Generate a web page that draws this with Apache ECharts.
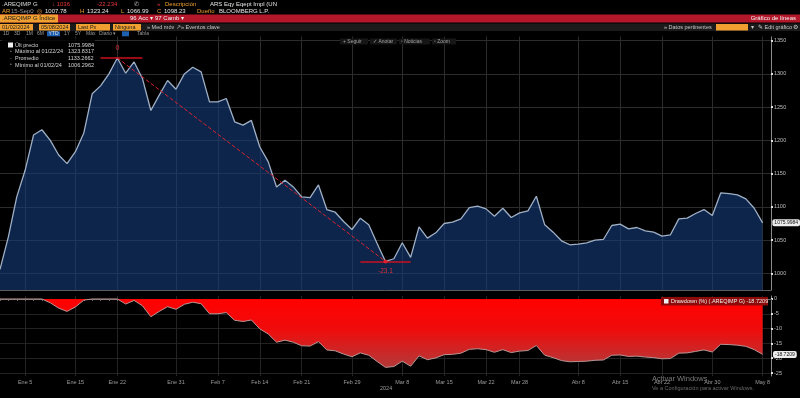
<!DOCTYPE html>
<html>
<head>
<meta charset="utf-8">
<script src="https://cdn.jsdelivr.net/npm/echarts@6/dist/echarts.min.js"></script>
<style>
  html, body { margin: 0; padding: 0; background: #000; }
  #chart { width: 800px; height: 398px; }
</style>
</head>
<body>
<div id="chart"></div>
<script>
// dias habiles 2 ene - 9 may 2024 (el ultimo queda vacio, margen a la derecha)
var fechas = [];
for (var d = new Date(Date.UTC(2024, 0, 2)); d <= new Date(Date.UTC(2024, 4, 9)); d.setUTCDate(d.getUTCDate() + 1)) {
  var wd = d.getUTCDay();
  if (wd === 0 || wd === 6) continue;
  fechas.push(d.toISOString().slice(0, 10));
}

// .AREQIMP G - ultimo precio
var precios = [
  1006, 1055, 1115, 1155, 1208, 1216, 1200, 1178, 1165, 1183,
  1211, 1270, 1282, 1300, 1324, 1301, 1318, 1293, 1245, 1268,
  1290, 1277, 1300, 1310, 1303, 1258, 1258, 1263, 1228, 1223,
  1230, 1190, 1168, 1130, 1140, 1130, 1115, 1114, 1133, 1096,
  1092, 1078, 1066, 1083, 1073, 1045, 1018, 1022, 1046, 1024,
  1070, 1053, 1061, 1075, 1077, 1082, 1099, 1101, 1097, 1086,
  1098, 1084, 1091, 1094, 1116, 1073, 1062, 1049, 1043, 1044,
  1046, 1050, 1051, 1072, 1074, 1067, 1069, 1064, 1062, 1056,
  1058, 1082, 1083, 1090, 1096, 1087, 1121, 1120, 1118, 1112,
  1098, 1076
];

// Drawdown (%)
var drawdown = [
  0, 0, 0, 0, 0, 0, -1.3, -3.1, -4.2, -2.7,
  -0.4, 0, 0, 0, 0, -1.7, -0.5, -2.3, -6.0, -4.2,
  -2.6, -3.5, -1.8, -1.1, -1.6, -5.0, -5.0, -4.6, -7.2, -7.6,
  -7.1, -10.1, -11.8, -14.6, -13.9, -14.6, -15.8, -15.9, -14.4, -17.2,
  -17.5, -18.6, -19.5, -18.2, -19.0, -21.1, -23.1, -22.8, -21.0, -22.7,
  -19.2, -20.5, -19.9, -18.8, -18.7, -18.3, -17.0, -16.8, -17.1, -18.0,
  -17.1, -18.1, -17.6, -17.4, -15.7, -19.0, -19.8, -20.8, -21.2, -21.1,
  -21.0, -20.7, -20.6, -19.0, -18.9, -19.4, -19.3, -19.6, -19.8, -20.2,
  -20.1, -18.3, -18.2, -17.7, -17.2, -17.9, -15.3, -15.4, -15.6, -16.0,
  -17.1, -18.7
];

var tickFechas = ['2024-01-05', '2024-01-15', '2024-01-22', '2024-01-31', '2024-02-07', '2024-02-14',
  '2024-02-21', '2024-02-29', '2024-03-08', '2024-03-15', '2024-03-22', '2024-03-28',
  '2024-04-08', '2024-04-15', '2024-04-22', '2024-04-30', '2024-05-08'];
var tickEtiquetas = ['Ene 5', 'Ene 15', 'Ene 22', 'Ene 31', 'Feb 7', 'Feb 14', 'Feb 21', 'Feb 29',
  'Mar 8', 'Mar 15', 'Mar 22', 'Mar 28', 'Abr 8', 'Abr 15', 'Abr 22', 'Abr 30', 'May 8'];
var nivelesPrecio = [1000, 1050, 1100, 1150, 1200, 1250, 1300, 1350];
var nivelesDD = [0, -5, -10, -15, -20, -25];

var ultimoPrecio = 1075.9984;
var ultimoDD = -18.7209;
var picoIdx = 14, valleIdx = 46;

var FONT = "'Liberation Sans Narrow', 'Liberation Sans', Arial, sans-serif";

function esTick(i, v) { return tickFechas.indexOf(v) >= 0; }
function etiqueta(v) { var k = tickFechas.indexOf(v); return k >= 0 ? tickEtiquetas[k] : ''; }
function sinComa(v) { return String(v); }

function txt(x, y, s, color, size, extra) {
  var st = { text: s, fill: color, font: (size || 6) + 'px ' + FONT, verticalAlign: 'middle' };
  if (extra) for (var k in extra) st[k] = extra[k];
  return { type: 'text', x: x, y: y, z: 100, silent: true, style: st };
}
function caja(x, y, w, h, color, r) {
  return { type: 'rect', z: 99, silent: true, shape: { x: x, y: y, width: w, height: h, r: r || 0 }, style: { fill: color } };
}

var ORANGE = '#f0a030';
var graficos = [
  // fila 1
  txt(2, 4, '.AREQIMP G', '#dcdcdc'),
  txt(52, 4, '\u2193 1036', '#e8383a'),
  txt(97, 4, '-22.234', '#e8383a'),
  txt(134, 4, '\u2706', '#bbb'),
  txt(157, 4, '\u00bb', '#e8383a'),
  txt(165, 4, 'Descripción', ORANGE),
  txt(210, 4, 'ARS Eqy Eqept Impl (UN', '#e6e6e6'),
  // fila 2
  txt(2, 11, 'AR', ORANGE),
  txt(11, 11, '15-Sep0', '#9a9a9a'),
  txt(37, 11, '\u25ce', ORANGE),
  txt(45, 11, '1007.78', '#e6e6e6'),
  txt(80, 11, 'H', ORANGE),
  txt(87, 11, '1323.24', '#e6e6e6'),
  txt(121, 11, 'L', ORANGE),
  txt(127, 11, '1066.99', '#e6e6e6'),
  txt(157, 11, 'C', ORANGE),
  txt(164, 11, '1098.23', '#e6e6e6'),
  txt(197, 11, 'Dueño', ORANGE),
  txt(219, 11, 'BLOOMBERG L.P.', '#e6e6e6'),
  // fila 3 - barra roja
  caja(0, 14.5, 800, 8, '#b3172a'),
  caja(0, 14.5, 58, 8, ORANGE),
  txt(2, 18.5, '.AREQIMP G Índice', '#1a1a1a'),
  txt(130, 18.5, '96 Acc \u25be', '#f0f0f0'),
  txt(155, 18.5, '97 Camb \u25be', '#f0f0f0'),
  txt(796, 18.5, 'Gráfico de líneas', '#f4f4f4', 6, { align: 'right' }),
  // fila 4
  caja(0, 23.5, 800, 7.5, '#1b1b1b'),
  caja(0, 24, 33, 6.5, ORANGE), txt(2, 27.3, '01/02/2024', '#1a1a1a', 5.5),
  caja(39, 24, 31, 6.5, ORANGE), txt(41, 27.3, '05/08/2024', '#1a1a1a', 5.5),
  caja(76, 24, 34, 6.5, ORANGE), txt(78, 27.3, 'Last Px', '#1a1a1a', 5.5),
  caja(113, 24, 28, 6.5, ORANGE), txt(115, 27.3, 'Ninguna', '#1a1a1a', 5.5),
  txt(147, 27.3, '\u00bb Med móv \u2197', '#c8c8c8', 5.5),
  txt(181, 27.3, '\u00bb Eventos clave', '#c8c8c8', 5.5),
  txt(664, 27.3, '\u00bb Datos pertinentes', '#c8c8c8', 5.5),
  caja(716, 24, 32, 6.5, ORANGE),
  txt(751, 27.3, '\u25be', '#c8c8c8', 5.5),
  txt(758, 27.3, '\u270e Edit gráfico', '#c8c8c8', 5.5),
  txt(793, 27.3, '\u2699', '#c8c8c8', 6),
  // fila 5
  caja(0, 31, 800, 5.5, '#000'),
  txt(3, 33.8, '1D', '#9a9a9a', 5),
  txt(14, 33.8, '3D', '#9a9a9a', 5),
  txt(26, 33.8, '1M', '#9a9a9a', 5),
  txt(37, 33.8, '6M', '#9a9a9a', 5),
  caja(47, 31.3, 13, 5, '#1f5fb0'), txt(48.5, 33.8, 'YTD', '#e8e8e8', 5),
  txt(64, 33.8, '1Y', '#9a9a9a', 5),
  txt(75, 33.8, '5Y', '#9a9a9a', 5),
  txt(86, 33.8, 'Máx', '#9a9a9a', 5),
  txt(99, 33.8, 'Diario \u25be', '#9a9a9a', 5),
  caja(122, 31.3, 7, 5, '#1f5fb0'),
  txt(137, 33.8, 'Tabla', '#9a9a9a', 5),
  // barra de herramientas del grafico
  caja(340, 38.5, 28, 6, '#161616', 1), txt(343, 41.5, '+ Seguir', '#a0a0a0', 5),
  caja(370, 38.5, 27, 6, '#161616', 1), txt(373, 41.5, '\u2713 Anotar', '#a0a0a0', 5),
  caja(399, 38.5, 31, 6, '#161616', 1), txt(401, 41.5, '\u25ab Noticias', '#a0a0a0', 5),
  caja(432, 38.5, 24, 6, '#161616', 1), txt(434, 41.5, '\u25ab Zoom', '#a0a0a0', 5),
  // leyenda principal
  caja(2, 38.5, 93, 29, 'rgba(0,0,0,0.78)'),
  caja(8, 42.5, 5, 5, '#f0f0f0'),
  txt(15, 45, 'Últ precio', '#d4d4d4', 5.5), txt(68, 45, '1075.9984', '#d4d4d4', 5.5),
  txt(10, 51.7, '\u2022', '#888', 5), txt(15, 51.7, 'Máximo al 01/22/24', '#d4d4d4', 5.5), txt(68, 51.7, '1323.8317', '#d4d4d4', 5.5),
  txt(10, 58.3, '-', '#888', 5), txt(15, 58.3, 'Promedio', '#d4d4d4', 5.5), txt(68, 58.3, '1133.2662', '#d4d4d4', 5.5),
  txt(10, 65, '\u2022', '#888', 5), txt(15, 65, 'Mínimo al 01/02/24', '#d4d4d4', 5.5), txt(68, 65, '1006.2962', '#d4d4d4', 5.5),
  // leyenda drawdown
  caja(661, 297, 107, 8.5, '#8c0a0a'),
  caja(664, 299, 4.5, 4.5, '#f0f0f0'),
  txt(671, 301.3, 'Drawdown (%) (.AREQIMP G) -18.7209', '#f0f0f0', 5.5),
  // anio y marca de agua
  txt(380, 388.5, '2024', '#9a9a9a', 5.5),
  txt(652, 379, 'Activar Windows', '#7a7a7a', 7.5),
  txt(652, 388.5, 'Ve a Configuración para activar Windows.', '#6a6a6a', 5.5)
];

var chart = echarts.init(document.getElementById('chart'));
chart.setOption({
  backgroundColor: '#000',
  animation: false,
  textStyle: { fontFamily: FONT },
  graphic: graficos,
  grid: [
    { left: 0, right: 29, top: 34, bottom: 108 },
    { left: 0, right: 29, top: 296, bottom: 22 }
  ],
  xAxis: [
    {
      type: 'category', gridIndex: 0, data: fechas, boundaryGap: false,
      axisLine: { lineStyle: { color: '#5c5c5c' } },
      axisTick: { show: false }, axisLabel: { show: false },
      splitLine: { show: true, interval: esTick, lineStyle: { color: '#2c2c2c' } }
    },
    {
      type: 'category', gridIndex: 1, data: fechas, boundaryGap: false,
      axisLine: { lineStyle: { color: '#6e6e6e' } },
      axisTick: { show: true, interval: 0, length: 2, lineStyle: { color: '#6e6e6e' } },
      axisLabel: { interval: esTick, formatter: etiqueta, color: '#9c9c9c', fontSize: 5.5, margin: 3 },
      splitLine: { show: true, interval: esTick, lineStyle: { color: '#242424' } }
    }
  ],
  yAxis: [
    {
      type: 'value', gridIndex: 0, position: 'right', min: 975, max: 1360,
      axisLine: { show: true, lineStyle: { color: '#8a8a8a' } },
      axisTick: { show: true, length: 2, customValues: nivelesPrecio, lineStyle: { color: '#e0e0e0', width: 2 } },
      axisLabel: { customValues: nivelesPrecio, formatter: sinComa, color: '#bdbdbd', fontSize: 5.5, margin: 3 },
      splitLine: { show: true, lineStyle: { color: '#2c2c2c' } },
      axisPointer: {
        show: true, value: ultimoPrecio, status: 'show', triggerTooltip: false,
        lineStyle: { opacity: 0 },
        label: {
          show: true, formatter: function () { return ultimoPrecio.toFixed(4); },
          backgroundColor: '#ececec', color: '#111', fontSize: 5, padding: [1, 2], borderRadius: 2, margin: 2
        }
      }
    },
    {
      type: 'value', gridIndex: 1, position: 'right', min: -26, max: 1,
      axisLine: { show: true, lineStyle: { color: '#8a8a8a' } },
      axisTick: { show: true, length: 2, customValues: nivelesDD, lineStyle: { color: '#e0e0e0', width: 2 } },
      axisLabel: { customValues: nivelesDD, formatter: sinComa, color: '#bdbdbd', fontSize: 5.5, margin: 3 },
      splitLine: { show: true, lineStyle: { color: '#222' } },
      axisPointer: {
        show: true, value: ultimoDD, status: 'show', triggerTooltip: false,
        lineStyle: { opacity: 0 },
        label: {
          show: true, formatter: function () { return ultimoDD.toFixed(4); },
          backgroundColor: '#ececec', color: '#111', fontSize: 5, padding: [1, 2], borderRadius: 2, margin: 2
        }
      }
    }
  ],
  series: [
    {
      name: 'Últ precio', type: 'line', xAxisIndex: 0, yAxisIndex: 0, data: precios,
      symbol: 'none', silent: true,
      lineStyle: { color: '#9fb0c6', width: 1.3 },
      areaStyle: { color: 'rgba(22,62,125,0.6)', opacity: 1, origin: 'start' },
      markLine: {
        silent: true, symbol: 'none', label: { show: false },
        data: [
          [{ coord: [picoIdx, precios[picoIdx]], lineStyle: { type: 'dashed', color: '#d8232f', width: 1 } },
           { coord: [valleIdx, precios[valleIdx]] }],
          [{ coord: [picoIdx - 2, precios[picoIdx]], lineStyle: { type: 'solid', color: '#c8101e', width: 1.5 } },
           { coord: [picoIdx + 3, precios[picoIdx]] }],
          [{ coord: [valleIdx - 3, precios[valleIdx]], lineStyle: { type: 'solid', color: '#c8101e', width: 1.5 } },
           { coord: [valleIdx + 3, precios[valleIdx]] }]
        ]
      },
      markPoint: {
        silent: true, symbol: 'circle',
        data: [
          { coord: [picoIdx, precios[picoIdx]], symbolSize: 0,
            label: { show: true, formatter: '0', position: 'top', distance: 6, color: '#e0303a', fontSize: 7 } },
          { coord: [valleIdx, precios[valleIdx]], symbolSize: 4, itemStyle: { color: '#e0202c' },
            label: { show: true, formatter: '-23.1', position: 'bottom', distance: 4, color: '#d8303a', fontSize: 6.5 } }
        ]
      }
    },
    {
      name: 'Drawdown', type: 'line', xAxisIndex: 1, yAxisIndex: 1, data: drawdown,
      symbol: 'none', silent: true,
      lineStyle: { color: '#b89494', width: 1 },
      areaStyle: {
        opacity: 1,
        color: new echarts.graphic.LinearGradient(0, 0, 0, 1, [
          { offset: 0, color: '#ff0000' },
          { offset: 0.45, color: '#f00c0c' },
          { offset: 1, color: '#b23a3a' }
        ])
      }
    }
  ]
});
</script>
</body>
</html>
